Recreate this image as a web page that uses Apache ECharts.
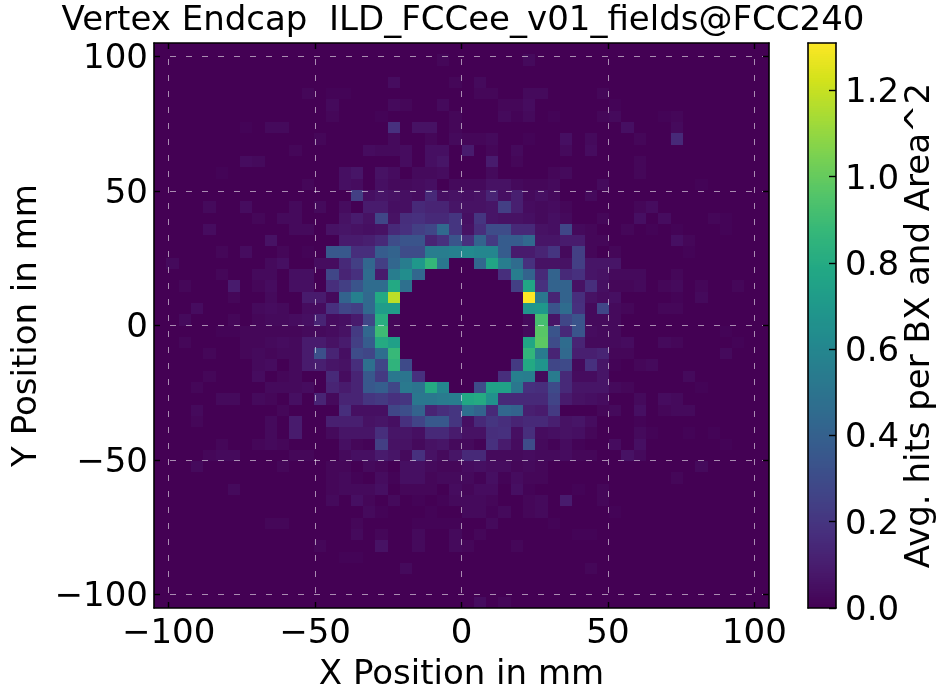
<!DOCTYPE html>
<html>
<head>
<meta charset="utf-8">
<style>html,body{margin:0;padding:0;background:#fff}#c{width:938px;height:689px}</style>
<script src="https://cdn.jsdelivr.net/npm/echarts@6/dist/echarts.min.js"></script>
</head>
<body>
<div id="c"></div>
<script>
const titleText = 'Vertex Endcap  ILD_FCCee_v01_fields@FCC240';
const xLabel = 'X Position in mm';
const yLabel = 'Y Position in mm';
const barLabel = 'Avg. hits per BX and Area^2';
const axisTicks = [-100, -50, 0, 50, 100];
const barTicks = [0, 0.2, 0.4, 0.6, 0.8, 1.0, 1.2];
const binCount = 50;
const rangeMin = -105;
const rangeMax = 105;
const valueMax = 1.31;
const viridis = ['#440154','#481a6c','#472f7d','#414487','#39568c','#31688e','#2a788e','#23888e','#1f988b','#22a884','#35b779','#54c568','#7ad151','#a5db36','#d2e21b','#fde725'];

// Bin contents in hundredths of a hit, {column: value}; row 0 is the top row of the plot, absent columns are 0.
const hitRows = [
 {},
 {23:2,30:3},
 {},
 {19:4,24:2,26:3},
 {12:2,14:1,15:1,26:2,27:2,30:3,31:3,36:2},
 {14:3,19:3,20:2,23:3,28:2,29:2,30:4,37:1},
 {14:2,18:1,24:2,28:3,29:1,30:3,32:1,36:2,37:3,41:1,42:2},
 {7:1,9:3,10:3,19:18,21:6,22:6,24:2,38:5,42:3},
 {13:2,19:3,22:2,24:3,25:2,26:2,27:3,30:1,33:5,35:3,39:2,42:15},
 {11:2,17:4,18:3,19:3,20:4,22:5,23:5,25:9,27:2,29:3,33:3,35:4},
 {7:4,8:3,20:4,22:5,23:7,27:9,29:2,39:2},
 {5:1,15:5,16:7,18:6,19:4,21:3,22:3,23:4,27:3,32:2,33:3,39:2},
 {12:2,15:5,16:4,18:5,19:3,20:3,21:4,22:5,24:3,25:3,26:3,27:6,28:6,29:3,30:2,31:2,32:3,36:3,44:1},
 {16:24,17:5,18:7,19:6,20:5,21:4,22:15,23:5,24:6,25:5,26:6,27:13,28:5,29:11,30:3,31:5,32:3,35:3},
 {4:3,7:4,11:3,13:3,15:4,17:9,18:9,19:5,20:5,21:15,22:13,23:13,24:7,25:6,26:6,27:7,28:24,29:11,30:4,31:3,32:4,33:2,39:2,40:4},
 {8:2,10:3,11:3,15:6,16:9,17:6,18:27,19:6,20:17,21:18,22:15,23:15,24:20,25:5,26:20,27:7,28:6,29:6,30:5,31:3,32:5,33:3,36:2,39:5,41:4,45:2,46:1},
 {4:4,11:3,12:3,14:6,15:7,16:6,17:5,18:6,19:15,20:18,21:24,22:27,23:44,24:20,25:6,26:17,27:30,28:30,29:15,30:15,31:6,32:5,33:27,34:3,35:2,38:2,40:1,42:1,46:1},
 {9:6,15:9,16:9,17:11,18:15,19:30,20:34,21:34,22:13,23:18,24:34,25:18,26:41,27:22,28:38,29:38,30:44,31:7,32:7,33:9,34:9,35:2,36:2,42:5,43:2},
 {5:2,7:4,10:2,12:1,14:36,15:36,16:17,17:17,18:38,19:41,20:30,21:30,22:55,23:55,24:57,25:62,26:60,27:60,28:38,29:9,30:9,31:13,32:20,33:3,34:24,35:2,37:2,43:1},
 {1:3,9:3,10:5,13:4,14:4,15:15,16:24,17:43,18:24,19:43,20:55,21:70,22:87,23:52,26:43,27:77,28:55,29:46,30:18,31:6,32:6,33:6,34:24,35:7,36:7,37:7},
 {5:2,8:3,9:3,11:5,12:5,14:27,15:13,16:18,17:46,18:9,19:55,20:64,21:43,28:17,29:55,30:41,31:15,32:41,33:15,34:18,35:7,36:6,37:3,38:3,39:3,42:2},
 {2:2,6:9,8:2,9:4,11:5,12:5,14:17,15:24,16:34,17:46,18:46,19:79,20:48,29:24,30:77,31:18,32:41,33:41,34:6,35:17,36:5,37:2,38:2,39:3,41:2,42:3,44:2,47:2},
 {6:2,9:3,12:9,13:9,14:3,15:41,16:57,17:44,18:79,19:118,30:131,31:52,32:13,33:41,34:17,35:6,36:4,37:5,42:1,44:3},
 {3:4,8:3,9:4,10:3,12:4,13:4,14:18,15:27,16:24,17:44,18:72,19:72,30:68,31:70,32:34,33:46,34:18,35:3,36:27,37:3,38:2,41:2,42:2},
 {2:3,6:2,8:2,9:3,10:3,11:4,12:5,13:13,14:4,15:5,16:9,17:27,18:82,19:2,30:3,31:92,32:7,33:27,34:34,35:3,36:3,37:3},
 {5:1,6:1,7:2,8:2,9:2,10:2,11:2,12:3,13:3,14:4,15:6,16:22,17:43,18:90,19:2,30:3,31:97,32:34,33:15,34:34,35:4,36:3,37:3,46:1},
 {2:2,7:2,8:2,9:3,10:4,11:3,12:9,13:9,14:6,15:9,16:24,17:38,18:80,19:74,30:77,31:98,32:30,33:46,34:13,35:3,36:3,37:3,38:4,41:3,42:2,47:1},
 {4:2,7:2,8:3,9:2,10:3,11:3,12:9,13:32,14:13,15:5,16:30,17:27,18:47,19:88,30:86,31:54,32:13,33:44,34:11,35:11,36:13,37:2,38:2,46:3},
 {8:3,9:4,11:3,12:9,13:11,14:7,15:6,16:17,17:48,18:27,19:85,20:29,29:22,30:79,31:68,32:27,33:29,34:3,35:18,36:7,37:1,39:2,40:3},
 {4:2,8:4,10:2,11:3,14:15,15:4,16:13,17:36,18:22,19:52,20:51,21:18,28:17,29:56,30:55,31:3,32:54,33:15,34:4,35:4,36:7,43:3},
 {3:2,9:3,10:3,11:3,12:4,14:13,15:9,16:13,17:36,18:39,19:27,20:53,21:50,22:80,23:60,26:30,27:75,28:75,29:52,30:18,31:17,32:29,33:15,34:7,35:7,36:7,37:3,38:2,44:1},
 {5:3,6:3,8:3,9:2,11:5,13:13,14:3,15:13,16:13,17:20,18:22,19:18,20:20,21:52,22:52,23:54,24:55,25:78,26:80,27:66,28:15,29:15,30:15,31:15,32:26,33:9,34:6,35:5,36:4,39:3,41:4,42:3},
 {3:3,10:2,15:17,16:5,17:5,18:5,19:27,20:31,21:41,22:13,23:17,24:20,25:47,26:41,27:15,28:43,29:41,30:11,31:9,32:22,36:2,37:3,39:5,41:2,42:3,43:3},
 {3:2,9:3,11:9,14:11,15:11,16:11,17:6,18:7,19:5,20:18,21:26,22:36,23:36,24:20,25:5,26:15,27:20,28:17,29:13,30:15,31:15,32:11,33:6,34:7,35:4,39:1},
 {9:3,11:9,14:3,15:7,16:7,17:7,18:17,19:7,20:7,21:5,22:15,23:15,24:9,25:6,26:6,27:17,28:18,29:5,30:17,31:4,32:5,33:6,34:5,35:2,39:3,40:1,43:1,45:1},
 {5:2,8:2,9:3,10:2,15:5,16:2,17:1,18:24,19:6,20:6,21:3,22:6,23:7,24:3,25:3,26:1,27:18,28:9,29:4,30:30,31:3,32:1,33:4,34:1,37:4,39:5,46:1},
 {4:2,5:3,6:3,11:2,12:2,15:3,16:5,17:5,18:9,19:7,20:3,21:18,22:6,23:3,24:7,25:15,26:15,27:3,28:3,29:3,30:4,31:3,32:3,33:4,34:2,35:2,38:6,39:3},
 {3:3,10:2,14:2,15:2,17:3,18:2,20:5,21:5,22:3,23:2,24:2,25:4,26:5,27:4,28:4,29:2,30:3,31:2,44:3},
 {14:2,15:3,16:1,18:4,19:1,20:5,21:5,22:2,23:3,24:3,25:3,26:1,27:5,28:1,29:4,30:2,31:2,42:2},
 {6:3,14:2,15:3,16:3,17:3,18:5,20:2,21:2,22:2,24:4,25:2,26:4,27:4,29:5,30:1,34:1,36:2},
 {14:3,16:5,17:2,19:3,21:1,23:1,24:3,25:3,26:3,27:2,30:2,31:3,33:9,36:2},
 {17:3,18:1,22:1,25:3,26:3,27:1,28:3,30:2,31:3,37:1},
 {9:2,10:2,16:2,21:1,22:1,23:1,24:1,27:3,32:1},
 {16:3,18:2,21:3,24:3,26:2,34:1,35:1},
 {13:2,18:6,21:3,24:3,25:2,29:2},
 {15:1,16:1},
 {20:3,35:2},
 {},
 {},
 {26:4,28:2}
];

const binWidth = (rangeMax - rangeMin) / binCount;
const cells = [];
hitRows.forEach(function (row, r) {
  for (let c = 0; c < binCount; c++) {
    const v = (row[c] || 0) / 100;
    const x0 = rangeMin + c * binWidth;
    const yTop = rangeMax - r * binWidth;
    cells.push([x0, yTop - binWidth, x0 + binWidth, yTop, v]);
  }
});
const barCells = [];
for (let k = 0; k < 262; k++) {
  const a = k * valueMax / 262, b = (k + 1) * valueMax / 262;
  barCells.push([0, a, 1, b, (a + b) / 2]);
}

function renderBox(params, api) {
  const p0 = api.coord([api.value(0), api.value(1)]);
  const p1 = api.coord([api.value(2), api.value(3)]);
  const left = Math.round(p0[0]), right = Math.round(p1[0]);
  const top = Math.round(p1[1]), bottom = Math.round(p0[1]);
  return {
    type: 'rect',
    shape: { x: left, y: top, width: right - left, height: bottom - top },
    style: { fill: api.visual('color') }
  };
}
const fontFamily = 'DejaVu Sans';
const tickSize = 34;
const fmt = function (v) { return String(v).replace('-', '\u2212'); };
const frameLine = { show: true, onZero: false, lineStyle: { color: '#000', width: 1.6 } };
const gridLine = { show: true, lineStyle: { color: 'rgba(255,255,255,0.55)', width: 1, type: [6, 10] } };

function mainAxis(position, primary, name, nameGap, labelMargin, labelExtra) {
  return {
    type: 'value', position: position, min: rangeMin, max: rangeMax, z: 5,
    axisLine: frameLine,
    axisTick: { show: true, inside: true, length: 6, customValues: axisTicks, lineStyle: { color: '#000', width: 1.4 } },
    axisLabel: Object.assign({ show: primary, customValues: axisTicks, formatter: fmt, fontFamily: fontFamily, fontSize: tickSize, color: '#000', margin: labelMargin }, labelExtra || {}),
    splitLine: primary ? gridLine : { show: false },
    name: primary ? name : '', nameLocation: 'middle', nameGap: nameGap,
    nameTextStyle: { fontFamily: fontFamily, fontSize: tickSize, color: '#000' }
  };
}

const option = {
  animation: false,
  backgroundColor: '#fff',
  title: {
    text: titleText, left: 458, top: -1, textAlign: 'center',
    textStyle: { fontFamily: fontFamily, fontSize: 34, fontWeight: 'normal', color: '#000' }
  },
  grid: [
    { left: 154, right: 169, top: 43, bottom: 81, outerBoundsMode: 'none' },
    { left: 808, right: 102, top: 43, bottom: 81, outerBoundsMode: 'none' }
  ],
  xAxis: [
    mainAxis('bottom', true, xLabel, 50, 9),
    mainAxis('top', false),
    { gridIndex: 1, type: 'value', min: 0, max: 1, position: 'bottom', z: 5, axisLine: frameLine, axisTick: { show: false }, axisLabel: { show: false }, splitLine: { show: false } },
    { gridIndex: 1, type: 'value', min: 0, max: 1, position: 'top', z: 5, axisLine: frameLine, axisTick: { show: false }, axisLabel: { show: false }, splitLine: { show: false } }
  ],
  yAxis: [
    mainAxis('left', true, yLabel, 107, 6, { verticalAlign: 'top', lineHeight: 6 }),
    mainAxis('right', false),
    { gridIndex: 1, type: 'value', min: 0, max: valueMax, position: 'left', z: 5, axisLine: frameLine, axisTick: { show: false }, axisLabel: { show: false }, splitLine: { show: false } },
    {
      gridIndex: 1, type: 'value', min: 0, max: valueMax, position: 'right', z: 5,
      axisLine: frameLine,
      axisTick: { show: true, inside: true, length: 7, customValues: barTicks, lineStyle: { color: '#000', width: 1.4 } },
      axisLabel: { show: true, customValues: barTicks, formatter: function (v) { return v.toFixed(1); }, fontFamily: fontFamily, fontSize: tickSize, color: '#000', margin: 9, verticalAlign: 'top', lineHeight: 6 },
      splitLine: { show: false },
      name: barLabel, nameLocation: 'middle', nameGap: 67, nameRotate: 90,
      nameTextStyle: { fontFamily: fontFamily, fontSize: 34, color: '#000' }
    }
  ],
  visualMap: { show: false, type: 'continuous', min: 0, max: valueMax, dimension: 4, seriesIndex: [0, 1], inRange: { color: viridis } },
  series: [
    { type: 'custom', coordinateSystem: 'cartesian2d', xAxisIndex: 0, yAxisIndex: 0, data: cells, renderItem: renderBox, encode: { x: [0, 2], y: [1, 3] }, z: 1, silent: true },
    { type: 'custom', coordinateSystem: 'cartesian2d', xAxisIndex: 2, yAxisIndex: 2, data: barCells, renderItem: renderBox, encode: { x: [0, 2], y: [1, 3] }, z: 1, silent: true }
  ]
};
const chart = echarts.init(document.getElementById('c'), null, { renderer: 'canvas' });
chart.setOption(option);
</script>
</body>
</html>
